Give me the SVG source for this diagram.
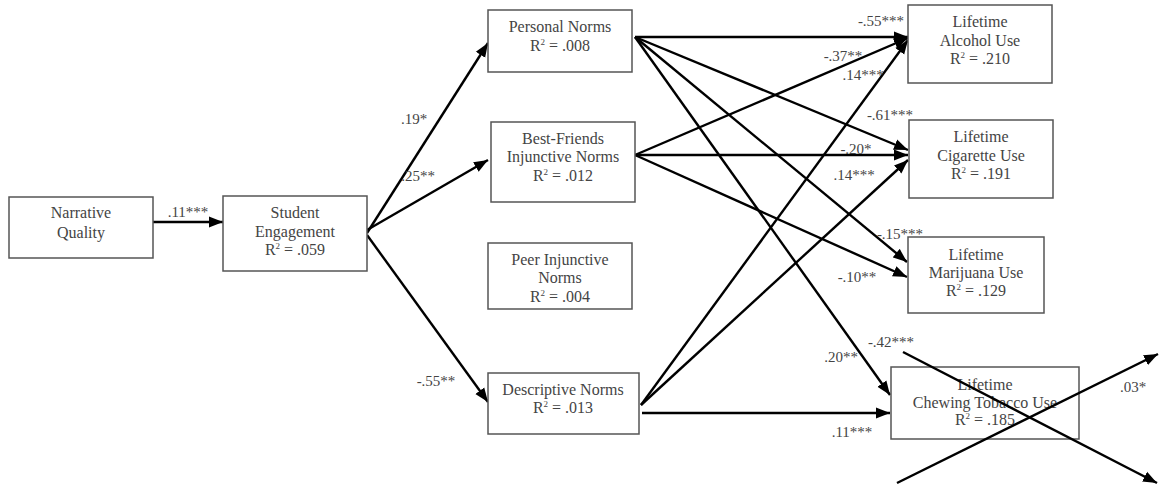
<svg xmlns="http://www.w3.org/2000/svg" width="1163" height="489" viewBox="0 0 1163 489">
<defs>
<marker id="ah" markerUnits="userSpaceOnUse" markerWidth="16" markerHeight="12" refX="14" refY="6" orient="auto">
<path d="M0,0.5 L14,6 L0,11.5 Z" fill="#000"/>
</marker>
<style>
.box{fill:#fff;stroke:#555;stroke-width:1.5}
.t{font-family:"Liberation Serif","Times New Roman",serif;font-size:16px;fill:#444;text-anchor:middle}
.lb{font-family:"Liberation Serif","Times New Roman",serif;font-size:15px;fill:#444;text-anchor:middle}
.e{stroke:#000;stroke-width:2.4;fill:none;marker-end:url(#ah)}
.sup{font-size:9px}
</style>
</defs>
<rect width="1163" height="489" fill="#fff"/>

<g id="connectors">
<line class="e" x1="153" y1="222" x2="223" y2="222"/>
<line class="e" x1="367" y1="233" x2="488" y2="43"/>
<line class="e" x1="367" y1="230" x2="488" y2="160"/>
<line class="e" x1="367" y1="235" x2="488" y2="402"/>
<line class="e" x1="635" y1="37" x2="908" y2="37"/>
<line class="e" x1="635" y1="37" x2="908" y2="150"/>
<line class="e" x1="635" y1="37" x2="907" y2="262"/>
<line class="e" x1="635" y1="37" x2="890" y2="395"/>
<line class="e" x1="635" y1="155" x2="908" y2="38"/>
<line class="e" x1="635" y1="155" x2="908" y2="155"/>
<line class="e" x1="635" y1="155" x2="907" y2="277"/>
<line class="e" x1="641" y1="405" x2="908" y2="40"/>
<line class="e" x1="641" y1="405" x2="908" y2="160"/>
<line class="e" x1="642" y1="413" x2="890" y2="413"/>
</g>

<g id="n-narrative">
<rect class="box" x="9" y="197" width="144" height="61"/>
<text class="t" x="81" y="218">Narrative</text>
<text class="t" x="81" y="238">Quality</text>
</g>
<g id="n-engagement">
<rect class="box" x="223" y="196" width="144" height="75"/>
<text class="t" x="295" y="218">Student</text>
<text class="t" x="295" y="237">Engagement</text>
<text class="t" x="295" y="255">R<tspan class="sup" dy="-6">2</tspan><tspan dy="6"> = .059</tspan></text>
</g>
<g id="n-personal">
<rect class="box" x="488" y="10" width="144" height="62"/>
<text class="t" x="560" y="32">Personal Norms</text>
<text class="t" x="560" y="51">R<tspan class="sup" dy="-6">2</tspan><tspan dy="6"> = .008</tspan></text>
</g>
<g id="n-bestfriends">
<rect class="box" x="491" y="122" width="144" height="80"/>
<text class="t" x="563" y="144">Best-Friends</text>
<text class="t" x="563" y="162">Injunctive Norms</text>
<text class="t" x="563" y="181">R<tspan class="sup" dy="-6">2</tspan><tspan dy="6"> = .012</tspan></text>
</g>
<g id="n-peer">
<rect class="box" x="488" y="243" width="144" height="66"/>
<text class="t" x="560" y="265">Peer Injunctive</text>
<text class="t" x="560" y="283">Norms</text>
<text class="t" x="560" y="302">R<tspan class="sup" dy="-6">2</tspan><tspan dy="6"> = .004</tspan></text>
</g>
<g id="n-descriptive">
<rect class="box" x="488" y="373" width="151" height="61"/>
<text class="t" x="563" y="395">Descriptive Norms</text>
<text class="t" x="563" y="413">R<tspan class="sup" dy="-6">2</tspan><tspan dy="6"> = .013</tspan></text>
</g>
<g id="n-alcohol">
<rect class="box" x="908" y="5" width="144" height="78"/>
<text class="t" x="980" y="27">Lifetime</text>
<text class="t" x="980" y="46">Alcohol Use</text>
<text class="t" x="980" y="64">R<tspan class="sup" dy="-6">2</tspan><tspan dy="6"> = .210</tspan></text>
</g>
<g id="n-cigarette">
<rect class="box" x="909" y="120" width="144" height="78"/>
<text class="t" x="981" y="142">Lifetime</text>
<text class="t" x="981" y="161">Cigarette Use</text>
<text class="t" x="981" y="179">R<tspan class="sup" dy="-6">2</tspan><tspan dy="6"> = .191</tspan></text>
</g>
<g id="n-marijuana">
<rect class="box" x="908" y="237" width="136" height="76"/>
<text class="t" x="976" y="260">Lifetime</text>
<text class="t" x="976" y="278">Marijuana Use</text>
<text class="t" x="976" y="296">R<tspan class="sup" dy="-6">2</tspan><tspan dy="6"> = .129</tspan></text>
</g>
<g id="n-chewing">
<rect class="box" x="891" y="367" width="188" height="72"/>
<text class="t" x="985" y="390">Lifetime</text>
<text class="t" x="985" y="408">Chewing  Tobacco Use</text>
<text class="t" x="985" y="425">R<tspan class="sup" dy="-6">2</tspan><tspan dy="6"> = .185</tspan></text>
</g>

<g id="cross">
<line class="e" x1="903" y1="352" x2="1157" y2="483"/>
<line class="e" x1="897" y1="483" x2="1158" y2="354"/>
</g>

<g id="labels">
<text class="lb" x="188" y="217">.11***</text>
<text class="lb" x="414" y="124">.19*</text>
<text class="lb" x="418" y="181">.25**</text>
<text class="lb" x="436" y="386">-.55**</text>
<text class="lb" x="881" y="26">-.55***</text>
<text class="lb" x="843" y="61">-.37**</text>
<text class="lb" x="863" y="80">.14***</text>
<text class="lb" x="890" y="120">-.61***</text>
<text class="lb" x="856" y="154">-.20*</text>
<text class="lb" x="854" y="180">.14***</text>
<text class="lb" x="900" y="239">-.15***</text>
<text class="lb" x="857" y="282">-.10**</text>
<text class="lb" x="891" y="347">-.42***</text>
<text class="lb" x="841" y="362">.20**</text>
<text class="lb" x="852" y="437">.11***</text>
<text class="lb" x="1133" y="392">.03*</text>
</g>
</svg>
